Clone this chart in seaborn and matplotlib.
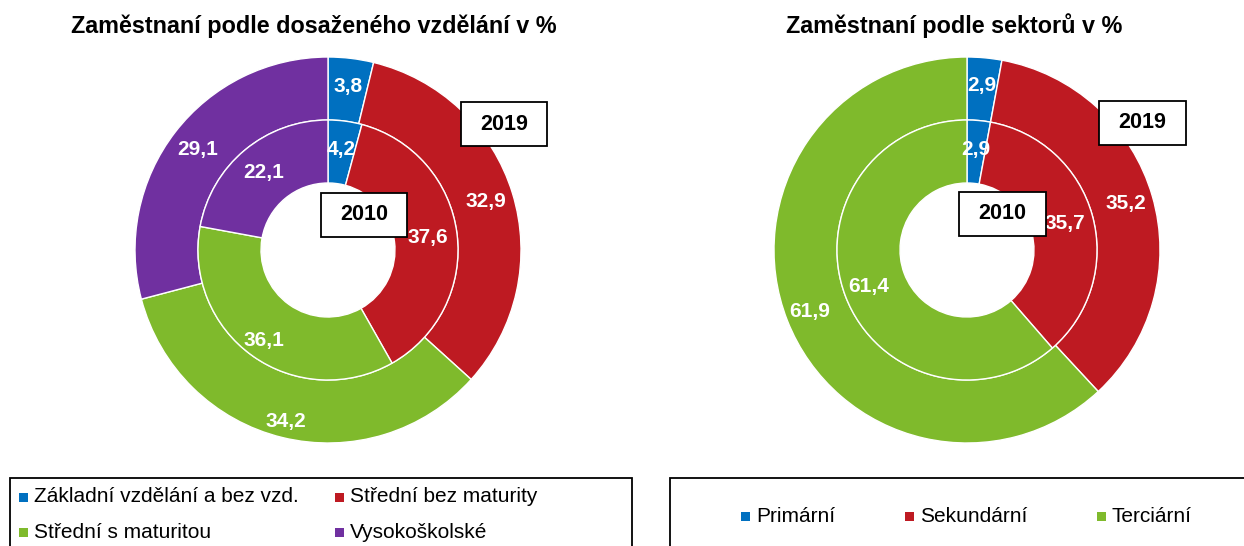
import numpy as np
import matplotlib
matplotlib.use("Agg")
import matplotlib.pyplot as plt
from matplotlib.patches import Rectangle
import seaborn as sns

W, H = 1244, 546

# data
edu_labels = ["Základní vzdělání a bez vzd.", "Střední bez maturity",
              "Střední s maturitou", "Vysokoškolské"]
edu_2019 = [3.8, 32.9, 34.2, 29.1]
edu_2010 = [4.2, 37.6, 36.1, 22.1]

sec_labels = ["Primární", "Sekundární", "Terciární"]
sec_2019 = [2.9, 35.2, 61.9]
sec_2010 = [2.9, 35.7, 61.4]

edu_colors = sns.color_palette(["#0070C0", "#BE1A22", "#7FBA2C", "#7030A0"])
sec_colors = edu_colors[:3]

sns.set_theme(style="white")
plt.rcParams["font.family"] = ["Liberation Sans", "DejaVu Sans"]
plt.rcParams["text.color"] = "black"

fig = plt.figure(figsize=(W / 100, H / 100), dpi=100)

# ring radii in pixels
R_OUT, R_MID, R_IN = 193, 130, 67


def fx(x):
    return x / W


def fy(y):
    return 1 - y / H


def ring_labels(ax, vals, r):
    vals = np.array(vals)
    mid = np.cumsum(vals) - vals / 2
    ang = np.deg2rad(90 - mid / vals.sum() * 360)
    for v, a in zip(vals, ang):
        # labels in the lower half sit a little further out, as in Excel
        rr = r + 12 * max(0, -np.sin(a))
        ax.text(rr * np.cos(a), rr * np.sin(a), f"{v:.1f}".replace(".", ","),
                ha="center", va="center", color="white", fontsize=15,
                fontweight="bold")


def donut(cx, cy, outer, inner, colors):
    ax = fig.add_axes([fx(cx - 200), fy(cy + 200), 400 / W, 400 / H])
    wp = dict(edgecolor="white", linewidth=1)
    ax.pie(outer, radius=R_OUT, colors=colors, startangle=90,
           counterclock=False, wedgeprops=dict(width=R_OUT - R_MID, **wp))
    ax.pie(inner, radius=R_MID, colors=colors, startangle=90,
           counterclock=False, wedgeprops=dict(width=R_MID - R_IN, **wp))
    ax.set_xlim(-200, 200)
    ax.set_ylim(-200, 200)
    ax.set_aspect("equal")
    ax.axis("off")
    ring_labels(ax, outer, 165)
    ring_labels(ax, inner, 101)
    return ax


def year_box(x0, y0, x1, y1, label):
    fig.add_artist(Rectangle((fx(x0), fy(y1)), (x1 - x0) / W, (y1 - y0) / H,
                             transform=fig.transFigure, facecolor="white",
                             edgecolor="black", linewidth=1.3, zorder=5))
    fig.text(fx((x0 + x1) / 2), fy((y0 + y1) / 2), label, ha="center",
             va="center", fontsize=15.5, fontweight="bold", zorder=6)


def legend_box(x0, y0, x1, y1, items):
    fig.add_artist(Rectangle((fx(x0), fy(y1)), (x1 - x0) / W, (y1 - y0) / H,
                             transform=fig.transFigure, facecolor="white",
                             edgecolor="black", linewidth=1.3, zorder=5,
                             clip_on=False))
    for (mx, my, text, color) in items:
        fig.add_artist(Rectangle((fx(mx), fy(my + 4.5)), 9 / W, 9 / H,
                                 transform=fig.transFigure, facecolor=color,
                                 edgecolor="none", zorder=6))
        fig.text(fx(mx + 15), fy(my), text, ha="left", va="center",
                 fontsize=15, zorder=6)


# left chart
donut(328, 250, edu_2019, edu_2010, edu_colors)
fig.text(fx(314), fy(26), "Zaměstnaní podle dosaženého vzdělání v %",
         ha="center", va="center", fontsize=16.8, fontweight="bold")
year_box(461, 102, 547, 146, "2019")
year_box(321, 193, 407, 237, "2010")
legend_box(10, 478, 632, 620, [
    (19, 497, edu_labels[0], edu_colors[0]),
    (335, 497, edu_labels[1], edu_colors[1]),
    (19, 532, edu_labels[2], edu_colors[2]),
    (335, 532, edu_labels[3], edu_colors[3]),
])

# right chart
donut(967, 250, sec_2019, sec_2010, sec_colors)
fig.text(fx(954), fy(26), "Zaměstnaní podle sektorů v %",
         ha="center", va="center", fontsize=16.8, fontweight="bold")
year_box(1099, 101, 1186, 145, "2019")
year_box(959, 192, 1046, 236, "2010")
legend_box(670, 478, 1270, 620, [
    (741, 516, sec_labels[0], sec_colors[0]),
    (905, 516, sec_labels[1], sec_colors[1]),
    (1097, 516, sec_labels[2], sec_colors[2]),
])

fig.savefig("out.png", dpi=100)
